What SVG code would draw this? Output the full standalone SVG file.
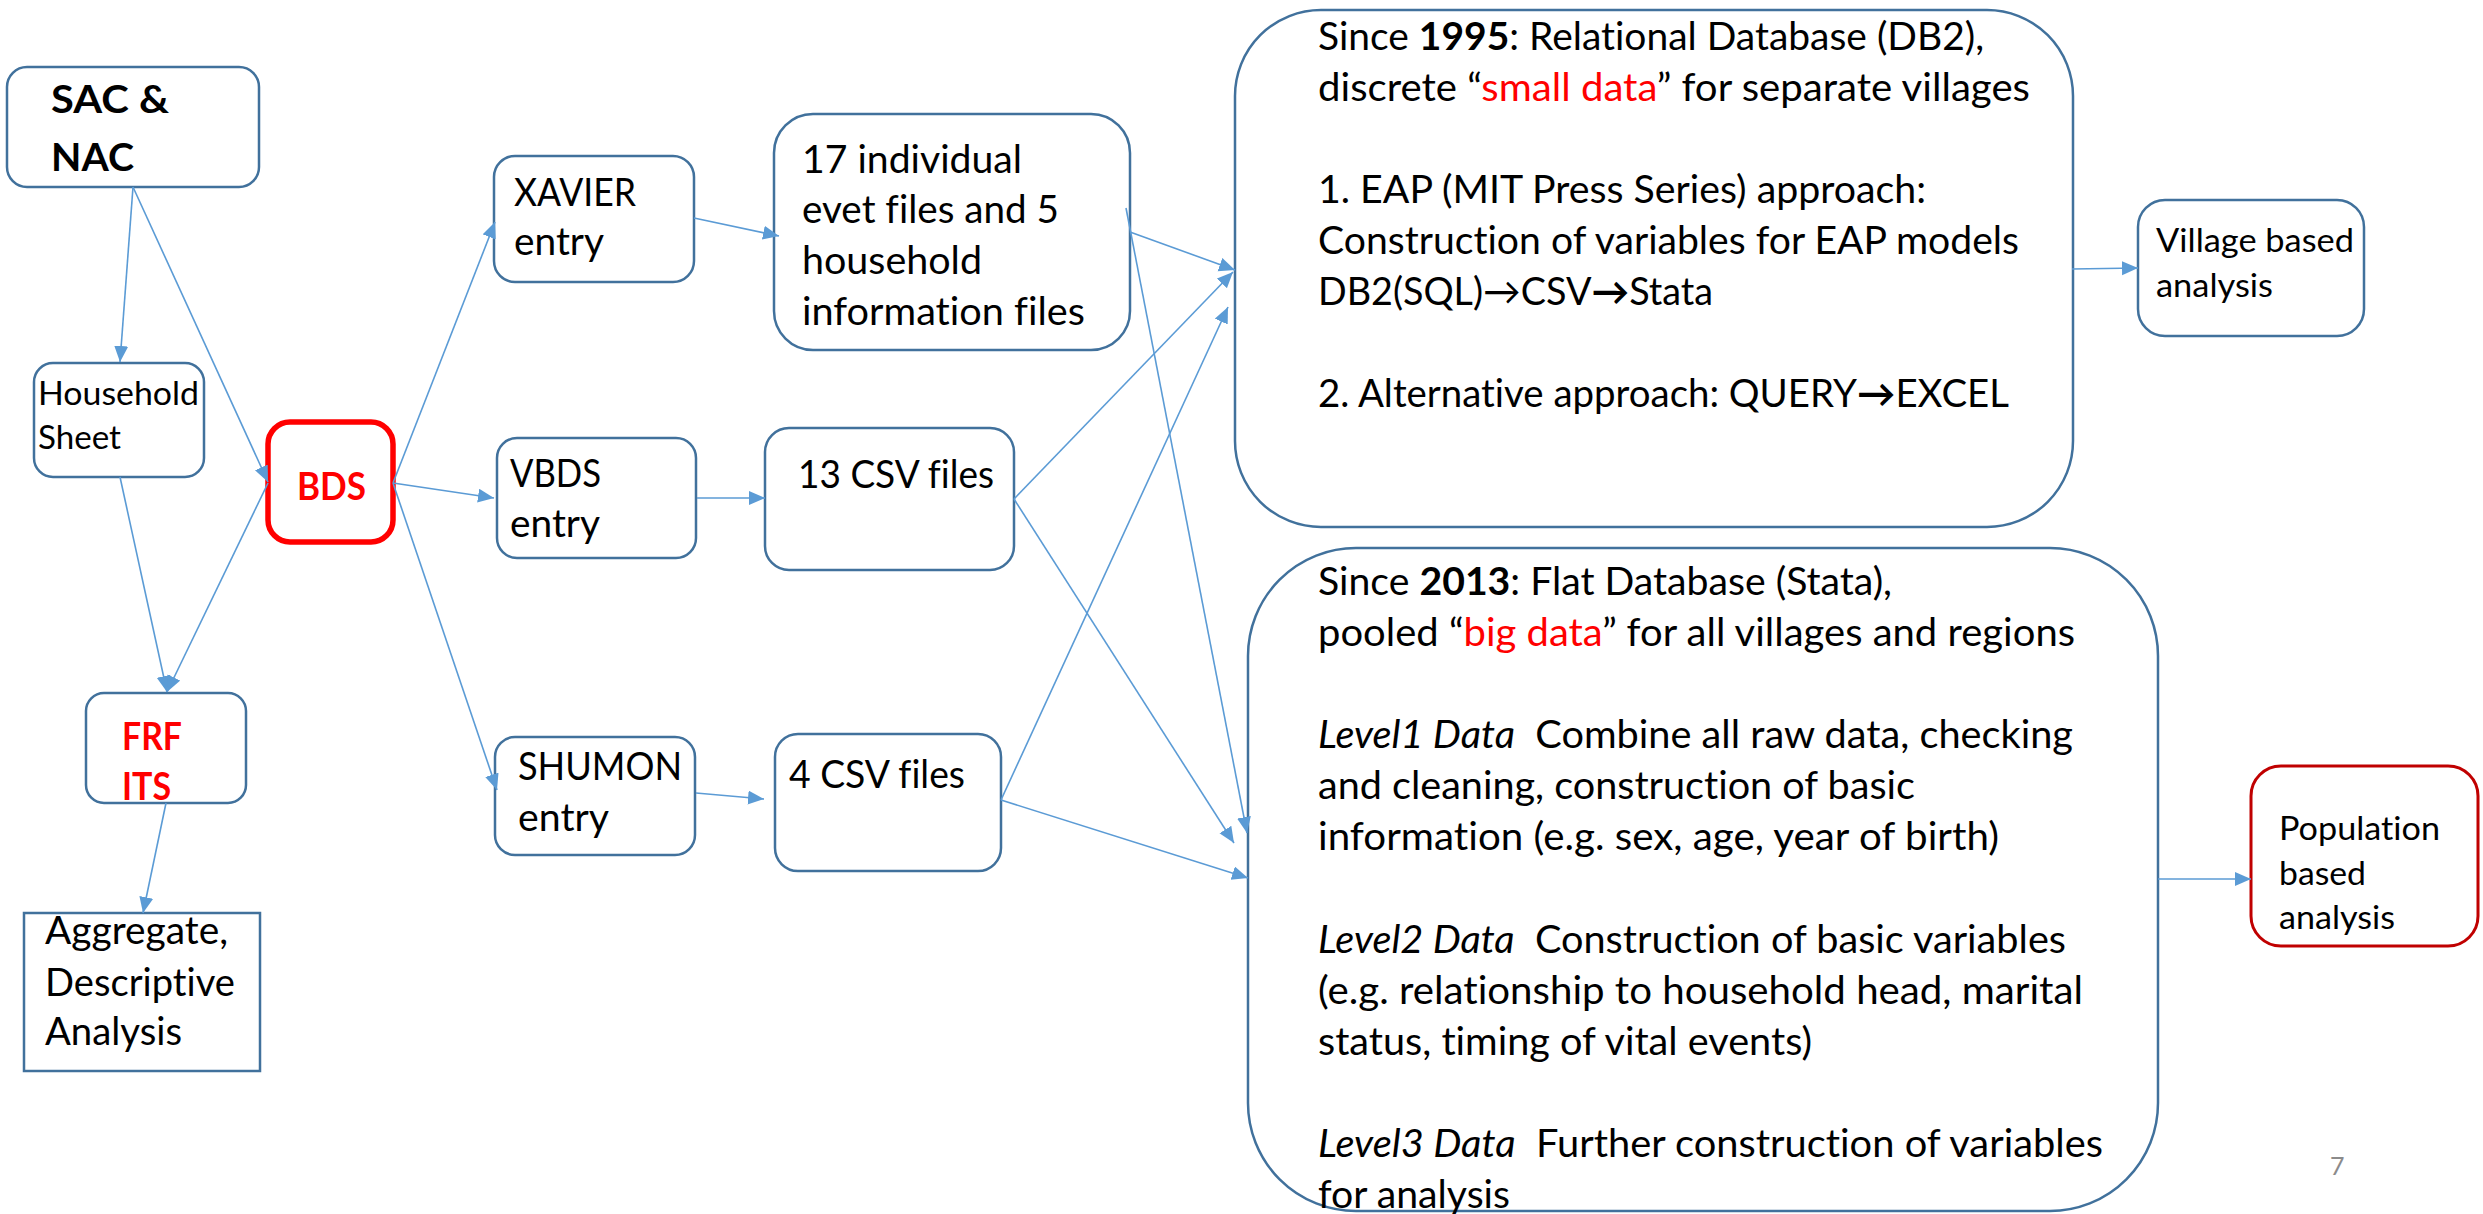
<svg xmlns="http://www.w3.org/2000/svg" width="2483" height="1214" viewBox="0 0 2483 1214">
<defs>
<style>
.box{fill:#fff;stroke:#41719C;stroke-width:2.5}
.t{font-family:Lato,"Liberation Sans",sans-serif;font-size:38px;fill:#000;font-variant-ligatures:none;font-feature-settings:"liga" 0,"clig" 0}
.s{font-size:33px}
.b{font-weight:bold}
.red{fill:#FF0000}
.conn line{stroke:#5B9BD5;stroke-width:1.6;fill:none;marker-end:url(#ah)}
</style>
<marker id="ah" markerUnits="userSpaceOnUse" markerWidth="18" markerHeight="16" refX="16" refY="7" orient="auto">
<path d="M0,0 L16,7 L0,14 z" fill="#5B9BD5"/>
</marker>
</defs>
<rect width="2483" height="1214" fill="#fff"/>

<g id="sac">
<rect class="box" x="7" y="67" width="252" height="120" rx="20"/>
<text class="t b" x="51" y="113" font-size="42" textLength="118" lengthAdjust="spacingAndGlyphs">SAC &amp;</text>
<text class="t b" x="51" y="171" font-size="42" textLength="83" lengthAdjust="spacingAndGlyphs">NAC</text>
</g>
<g id="household">
<rect class="box" x="34" y="363" width="170" height="114" rx="19"/>
<text class="t s" x="38" y="405" textLength="161" lengthAdjust="spacingAndGlyphs">Household</text>
<text class="t s" x="38" y="449" textLength="83" lengthAdjust="spacingAndGlyphs">Sheet</text>
</g>
<g id="bds">
<rect x="268" y="422" width="125" height="120" rx="22" fill="#fff" stroke="#FF0000" stroke-width="5.5"/>
<text class="t b red" x="297" y="500" textLength="69" lengthAdjust="spacingAndGlyphs">BDS</text>
</g>
<g id="frf">
<rect class="box" x="86" y="693" width="160" height="110" rx="18"/>
<text class="t b red" x="122" y="750" font-size="37" textLength="60" lengthAdjust="spacingAndGlyphs">FRF</text>
<text class="t b red" x="122" y="800" font-size="37" textLength="49" lengthAdjust="spacingAndGlyphs">ITS</text>
</g>
<g id="aggregate">
<rect class="box" x="24" y="913" width="236" height="158"/>
<text class="t" x="45" y="944" textLength="183" lengthAdjust="spacingAndGlyphs">Aggregate,</text>
<text class="t" x="45" y="996" textLength="190" lengthAdjust="spacingAndGlyphs">Descriptive</text>
<text class="t" x="45" y="1045" textLength="137" lengthAdjust="spacingAndGlyphs">Analysis</text>
</g>
<g id="xavier">
<rect class="box" x="494" y="156" width="200" height="126" rx="21"/>
<text class="t" x="514" y="206" textLength="122" lengthAdjust="spacingAndGlyphs">XAVIER</text>
<text class="t" x="514" y="255" textLength="90" lengthAdjust="spacingAndGlyphs">entry</text>
</g>
<g id="vbds">
<rect class="box" x="497" y="438" width="199" height="120" rx="20"/>
<text class="t" x="510" y="487" textLength="91" lengthAdjust="spacingAndGlyphs">VBDS</text>
<text class="t" x="510" y="537" textLength="90" lengthAdjust="spacingAndGlyphs">entry</text>
</g>
<g id="shumon">
<rect class="box" x="495" y="737" width="200" height="118" rx="20"/>
<text class="t" x="518" y="780" textLength="164" lengthAdjust="spacingAndGlyphs">SHUMON</text>
<text class="t" x="518" y="831" textLength="91" lengthAdjust="spacingAndGlyphs">entry</text>
</g>
<g id="files17">
<rect class="box" x="774" y="114" width="356" height="236" rx="39"/>
<text class="t" x="802" y="173" textLength="220" lengthAdjust="spacingAndGlyphs">17 individual</text>
<text class="t" x="802" y="223" textLength="257" lengthAdjust="spacingAndGlyphs">evet files and 5</text>
<text class="t" x="802" y="274" textLength="180" lengthAdjust="spacingAndGlyphs">household</text>
<text class="t" x="802" y="325" textLength="283" lengthAdjust="spacingAndGlyphs">information files</text>
</g>
<g id="csv13">
<rect class="box" x="765" y="428" width="249" height="142" rx="24"/>
<text class="t" x="798" y="488" textLength="196" lengthAdjust="spacingAndGlyphs">13 CSV files</text>
</g>
<g id="csv4">
<rect class="box" x="775" y="734" width="226" height="137" rx="23"/>
<text class="t" x="789" y="788" textLength="176" lengthAdjust="spacingAndGlyphs">4 CSV files</text>
</g>
<g id="relational">
<rect class="box" x="1235" y="10" width="838" height="517" rx="86"/>
<text class="t" x="1318" y="50" textLength="666" lengthAdjust="spacingAndGlyphs">Since <tspan class="b">1995</tspan>: Relational Database (DB2),</text>
<text class="t" x="1318" y="101" textLength="712" lengthAdjust="spacingAndGlyphs">discrete “<tspan class="red">small data</tspan>” for separate villages</text>
<text class="t" x="1318" y="203" textLength="608" lengthAdjust="spacingAndGlyphs">1. EAP (MIT Press Series) approach:</text>
<text class="t" x="1318" y="254" textLength="701" lengthAdjust="spacingAndGlyphs">Construction of variables for EAP models</text>
<text class="t" x="1318" y="305" textLength="395" lengthAdjust="spacingAndGlyphs">DB2(SQL)→CSV<tspan class="b">→</tspan>Stata</text>
<text class="t" x="1318" y="407" textLength="691" lengthAdjust="spacingAndGlyphs">2. Alternative approach: QUERY<tspan class="b">→</tspan>EXCEL</text>
</g>
<g id="flat">
<rect class="box" x="1248" y="548" width="910" height="663" rx="108"/>
<text class="t" x="1318" y="595" textLength="574" lengthAdjust="spacingAndGlyphs">Since <tspan class="b">2013</tspan>: Flat Database (Stata),</text>
<text class="t" x="1318" y="646" textLength="757" lengthAdjust="spacingAndGlyphs">pooled “<tspan class="red">big data</tspan>” for all villages and regions</text>
<text class="t" x="1318" y="748" textLength="755" lengthAdjust="spacingAndGlyphs"><tspan font-style="italic">Level1 Data</tspan> &#160;Combine all raw data, checking</text>
<text class="t" x="1318" y="799" textLength="597" lengthAdjust="spacingAndGlyphs">and cleaning, construction of basic</text>
<text class="t" x="1318" y="850" textLength="681" lengthAdjust="spacingAndGlyphs">information (e.g. sex, age, year of birth)</text>
<text class="t" x="1318" y="953" textLength="748" lengthAdjust="spacingAndGlyphs"><tspan font-style="italic">Level2 Data</tspan> &#160;Construction of basic variables</text>
<text class="t" x="1318" y="1004" textLength="765" lengthAdjust="spacingAndGlyphs">(e.g. relationship to household head, marital</text>
<text class="t" x="1318" y="1055" textLength="494" lengthAdjust="spacingAndGlyphs">status, timing of vital events)</text>
<text class="t" x="1318" y="1157" textLength="785" lengthAdjust="spacingAndGlyphs"><tspan font-style="italic">Level3 Data</tspan> &#160;Further construction of variables</text>
<text class="t" x="1318" y="1208" textLength="192" lengthAdjust="spacingAndGlyphs">for analysis</text>
</g>
<g id="village">
<rect class="box" x="2138" y="200" width="226" height="136" rx="27"/>
<text class="t s" x="2156" y="252" textLength="198" lengthAdjust="spacingAndGlyphs">Village based</text>
<text class="t s" x="2156" y="297" textLength="117" lengthAdjust="spacingAndGlyphs">analysis</text>
</g>
<g id="population">
<rect x="2251" y="766" width="227" height="180" rx="30" fill="#fff" stroke="#C00000" stroke-width="3"/>
<text class="t s" x="2279" y="840" textLength="161" lengthAdjust="spacingAndGlyphs">Population</text>
<text class="t s" x="2279" y="885" textLength="87" lengthAdjust="spacingAndGlyphs">based</text>
<text class="t s" x="2279" y="929" textLength="116" lengthAdjust="spacingAndGlyphs">analysis</text>
</g>
<text x="2330" y="1175" font-family="Lato,'Liberation Sans',sans-serif" font-size="25" fill="#8B8B8B">7</text>

<g id="connectors" class="conn">
<line x1="133" y1="187" x2="120" y2="362"/>
<line x1="133" y1="187" x2="268" y2="482"/>
<line x1="120" y1="477" x2="167" y2="692"/>
<line x1="268" y1="483" x2="167" y2="692"/>
<line x1="166" y1="803" x2="143" y2="913"/>
<line x1="393" y1="483" x2="495" y2="222"/>
<line x1="393" y1="483" x2="494" y2="498"/>
<line x1="393" y1="483" x2="497" y2="790"/>
<line x1="694" y1="218" x2="779" y2="236"/>
<line x1="697" y1="498" x2="765" y2="498"/>
<line x1="696" y1="793" x2="764" y2="799"/>
<line x1="1130" y1="232" x2="1235" y2="270"/>
<line x1="1014" y1="499" x2="1233" y2="272"/>
<line x1="1001" y1="800" x2="1228" y2="307"/>
<line x1="1126" y1="208" x2="1247" y2="833"/>
<line x1="1014" y1="499" x2="1234" y2="843"/>
<line x1="1001" y1="800" x2="1248" y2="878"/>
<line x1="2072" y1="269" x2="2138" y2="268"/>
<line x1="2158" y1="879" x2="2251" y2="879"/>
</g>
</svg>
